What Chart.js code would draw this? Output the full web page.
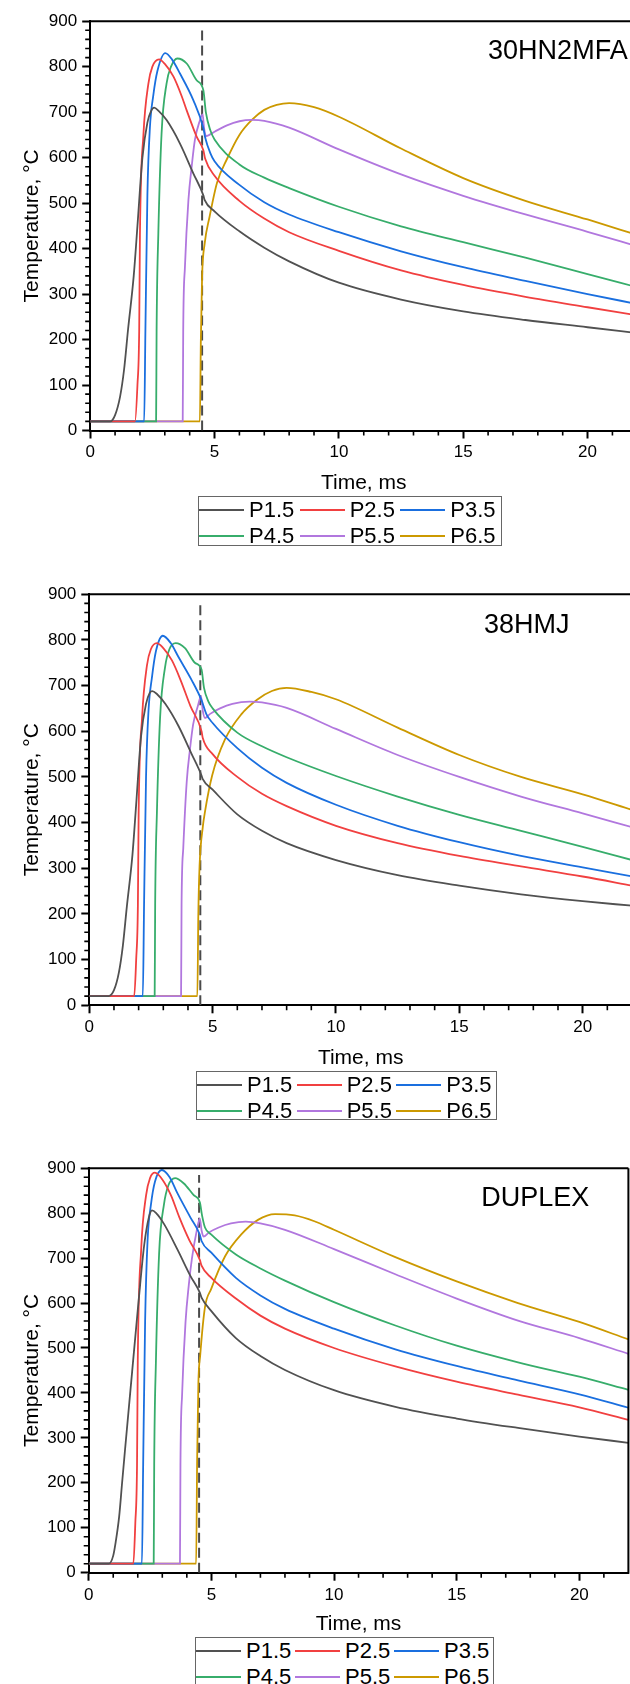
<!DOCTYPE html>
<html>
<head>
<meta charset="utf-8">
<title>Temperature vs time</title>
<script src="https://cdn.jsdelivr.net/npm/chart.js@4.4.0/dist/chart.umd.min.js"></script>
<style>
    html, body { margin: 0; padding: 0; background: #fff; }
    body { width: 630px; height: 1684px; position: relative; overflow: hidden; font-family: 'Liberation Sans', Arial, sans-serif; }
    canvas { position: absolute; left: 0; }
    .legend { position: absolute; box-sizing: border-box; border: 1px solid #666; display: grid; background: #fff; }
    .legend .item { display: flex; align-items: center; white-space: nowrap; font-size: 22px; color: #000; }
    .legend .swatch { display: inline-block; width: 45px; height: 2px; margin-right: 5px; }
</style>
</head>
<body>
<script>
// Series / panels
const seriesNames = ['P1.5', 'P2.5', 'P3.5', 'P4.5', 'P5.5', 'P6.5'];
const panelNames = ['30HN2MFA', '38HMJ', 'DUPLEX'];
const xTicks = [0, 5, 10, 15, 20];
const yTicks = [0, 100, 200, 300, 400, 500, 600, 700, 800, 900];
const xMax = 22;
const pulseEnd = 4.5;      // dashed line, ms
const pulseTop = 885;      // dashed line reaches up to this temperature
const labelAt = [16, 816]; // time, temperature of the steel grade label

// [time ms, temperature C]
// 30HN2MFA
const hn_p15 = [[0,20],[0.8,20],[1.0,34],[1.2,74],[1.36,133],[1.52,221],[1.75,340],[1.9,450],[2.1,600],[2.3,677],[2.45,703],[2.57,710],[2.75,703],[3.08,682],[3.61,631],[4.15,565],[4.55,517],[4.6,507],[5,482],[6,438],[7,402],[8,372],[10,325],[12.5,288],[15,262],[17.5,243],[20,227],[22,214]];
const hn_p25 = [[0,20],[1.8,20],[1.9,100],[1.97,220],[2.0,430],[2.14,650],[2.34,763],[2.5,800],[2.77,816],[3.0,806],[3.35,778],[3.68,735],[3.88,704],[4.28,646],[4.55,616],[4.62,598],[5,560],[6,505],[7,466],[8,436],[10,395],[12.5,352],[15,320],[17.5,294],[20,271],[22,253]];
const hn_p35 = [[0,20],[2.17,20],[2.22,220],[2.3,518],[2.4,665],[2.54,738],[2.7,790],[3.02,830],[3.3,815],[3.61,785],[4.15,726],[4.55,665],[4.62,645],[4.83,610],[5,592],[6,540],[7,502],[8,475],[10,436],[12.5,394],[15,359],[17.5,329],[20,300],[22,278]];
const hn_p45 = [[0,20],[2.65,20],[2.67,220],[2.74,434],[2.87,653],[3.07,763],[3.25,800],[3.5,818],[3.88,807],[4.28,770],[4.55,748],[4.65,700],[4.83,660],[5,640],[6,585],[7,556],[8,533],[10,492],[12.5,449],[15,414],[17.5,380],[20,344],[22,315]];
const hn_p55 = [[0,20],[3.72,20],[3.74,220],[3.81,360],[3.95,507],[4.08,580],[4.21,639],[4.4,680],[4.52,695],[4.58,665],[4.66,647],[5,657],[5.5,671],[6,680],[6.5,683],[7,681],[8,666],[10,618],[12.5,563],[15,516],[17.5,475],[20,437],[22,405]];
const hn_p65 = [[0,20],[4.41,20],[4.45,200],[4.5,340],[4.6,410],[4.8,470],[5.1,545],[5.5,597],[6,650],[6.5,683],[7,705],[7.5,716],[8,720],[9,711],[10,690],[12.5,620],[15,555],[17.5,505],[20,464],[22,430]];

// 38HMJ
const hmj_p15 = [[0,20],[0.78,20],[1.0,33],[1.2,72],[1.36,130],[1.52,215],[1.75,330],[1.9,440],[2.1,590],[2.3,660],[2.45,684],[2.55,688],[2.75,681],[3.08,660],[3.61,612],[4.15,550],[4.55,503],[4.6,495],[5,472],[6,418],[7,382],[8,355],[10,318],[12.5,285],[15,262],[17.5,243],[20,228],[22,218]];
const hmj_p25 = [[0,20],[1.82,20],[1.9,100],[1.97,220],[2.0,420],[2.14,630],[2.34,745],[2.5,780],[2.74,793],[3.0,782],[3.35,755],[3.7,712],[4.1,655],[4.55,600],[4.6,585],[5,550],[6,500],[7,463],[8,436],[10,393],[12.5,355],[15,327],[17.5,304],[20,282],[22,262]];
const hmj_p35 = [[0,20],[2.17,20],[2.22,220],[2.3,500],[2.4,645],[2.54,718],[2.7,775],[2.98,809],[3.3,793],[3.61,763],[4.15,712],[4.55,668],[4.75,637],[5,618],[6,563],[7,520],[8,487],[10,439],[12.5,393],[15,357],[17.5,327],[20,302],[22,282]];
const hmj_p45 = [[0,20],[2.65,20],[2.67,220],[2.74,420],[2.87,630],[3.07,740],[3.25,780],[3.5,793],[3.88,782],[4.28,750],[4.55,735],[4.65,695],[4.83,665],[5,650],[6,597],[7,567],[8,543],[10,502],[12.5,457],[15,417],[17.5,382],[20,347],[22,318]];
const hmj_p55 = [[0,20],[3.72,20],[3.74,220],[3.81,345],[3.95,490],[4.08,560],[4.21,615],[4.4,655],[4.53,677],[4.6,645],[4.69,629],[4.9,638],[5.3,650],[5.8,660],[6.5,665],[7,663],[8,651],[10,605],[12.5,548],[15,500],[17.5,457],[20,420],[22,390]];
const hmj_p65 = [[0,20],[4.38,20],[4.42,200],[4.47,305],[4.6,390],[4.69,424],[4.98,503],[5.5,582],[6.16,637],[6.8,669],[7.4,688],[8,695],[9,686],[10,670],[12.5,608],[15,548],[17.5,500],[20,462],[22,428]];

// DUPLEX
const dup_p15 = [[0,20],[0.82,20],[1.0,38],[1.1,68],[1.24,124],[1.36,199],[1.48,273],[1.77,447],[2.04,608],[2.26,728],[2.45,790],[2.58,806],[2.75,800],[3.08,775],[3.61,720],[4.15,660],[4.53,623],[4.6,612],[5,582],[6,522],[7,482],[8,451],[10,406],[12.5,369],[15,343],[17.5,322],[20,303],[22,289]];
const dup_p25 = [[0,20],[1.82,20],[1.9,110],[1.97,240],[2.0,470],[2.14,720],[2.34,840],[2.5,878],[2.7,890],[3.0,875],[3.35,840],[3.7,790],[4.1,740],[4.53,696],[4.6,683],[5,656],[6,610],[7,572],[8,543],[10,500],[12.5,459],[15,425],[17.5,396],[20,368],[22,340]];
const dup_p35 = [[0,20],[2.17,20],[2.22,240],[2.3,560],[2.4,740],[2.54,820],[2.7,870],[2.98,896],[3.3,880],[3.61,845],[4.15,790],[4.53,752],[4.6,738],[5,712],[6,656],[7,617],[8,587],[10,543],[12.5,497],[15,460],[17.5,428],[20,397],[22,367]];
const dup_p45 = [[0,20],[2.65,20],[2.67,240],[2.74,470],[2.87,710],[3.07,820],[3.25,862],[3.52,878],[3.88,866],[4.28,840],[4.53,824],[4.62,795],[4.74,768],[5,752],[6,708],[7,677],[8,650],[10,602],[12.5,550],[15,505],[17.5,468],[20,436],[22,407]];
const dup_p55 = [[0,20],[3.72,20],[3.74,240],[3.81,400],[3.95,560],[4.08,640],[4.21,700],[4.4,760],[4.53,788],[4.6,762],[4.68,748],[4.9,757],[5.3,768],[5.8,777],[6.4,781],[7,777],[8,763],[10,720],[12.5,664],[15,610],[17.5,561],[20,522],[22,487]];
const dup_p65 = [[0,20],[4.38,20],[4.42,250],[4.47,420],[4.55,487],[4.74,591],[4.99,631],[5.56,704],[6.21,752],[6.9,785],[7.6,798],[8.4,795],[9.2,782],[10,763],[12.5,702],[15,648],[17.5,600],[20,558],[22,519]];

const panelData = [
    [hn_p15, hn_p25, hn_p35, hn_p45, hn_p55, hn_p65],
    [hmj_p15, hmj_p25, hmj_p35, hmj_p45, hmj_p55, hmj_p65],
    [dup_p15, dup_p25, dup_p35, dup_p45, dup_p55, dup_p65]
];

// Look
const seriesColors = ['#515151', '#F14040', '#1A6FDF', '#37AD6B', '#B177DE', '#CC9900'];
const FONT = "'Liberation Sans', Arial, sans-serif";
Chart.defaults.font.family = FONT;
Chart.defaults.color = '#000';

// plot-area placement of each panel on the page (px)
const layouts = [
    { top: 21, bottom: 430.5, left: 90.2, right: 637.3, titleY: 483.5, frameRight: false,
      legend: { left: 198, top: 496, width: 304, height: 50 } },
    { top: 594.3, bottom: 1005.6, left: 89.3, right: 632, titleY: 1058.3, frameRight: false,
      legend: { left: 196, top: 1071, width: 301, height: 49 } },
    { top: 1168, bottom: 1572.7, left: 88.7, right: 628.4, titleY: 1624.7, frameRight: true,
      legend: { left: 195, top: 1637, width: 299, height: 48 } }
];
const PAD_TOP = 15;
const X_AXIS_H = 70;

// top frame line, minor ticks and the grade label
const framePlugin = {
    id: 'frame',
    afterDraw(chart, args, opts) {
        const { ctx, chartArea: a } = chart;
        const x = chart.scales.x, y = chart.scales.y;
        ctx.save();
        ctx.strokeStyle = '#000';
        ctx.lineWidth = 2;
        ctx.beginPath();
        ctx.moveTo(a.left - 1, a.top);
        ctx.lineTo(a.right, a.top);
        if (opts.right) {
            ctx.moveTo(a.right, a.top);
            ctx.lineTo(a.right, a.bottom + 1);
        }
        ctx.stroke();

        ctx.lineWidth = 1.6;
        ctx.beginPath();
        for (let v = 1; v < x.max; v++) {
            if (v % 5 === 0) continue;
            const px = x.getPixelForValue(v);
            ctx.moveTo(px, a.bottom);
            ctx.lineTo(px, a.bottom + 5);
        }
        for (let v = 20; v < y.max; v += 20) {
            if (v % 100 === 0) continue;
            const py = y.getPixelForValue(v);
            ctx.moveTo(a.left, py);
            ctx.lineTo(a.left - 5, py);
        }
        ctx.stroke();

        ctx.fillStyle = '#000';
        ctx.font = '27px ' + FONT;
        ctx.textAlign = 'left';
        ctx.textBaseline = 'alphabetic';
        ctx.fillText(opts.label, x.getPixelForValue(labelAt[0]), y.getPixelForValue(labelAt[1]));
        ctx.restore();
    }
};

function buildLegend(chart, L) {
    const box = document.createElement('div');
    box.className = 'legend';
    box.style.left = L.left + 'px';
    box.style.top = L.top + 'px';
    box.style.width = L.width + 'px';
    box.style.height = L.height + 'px';
    box.style.gridTemplateColumns = 'repeat(3, 1fr)';
    box.style.gridTemplateRows = 'repeat(2, 1fr)';
    chart.data.datasets.filter(ds => seriesNames.includes(ds.label)).forEach(ds => {
        const item = document.createElement('div');
        item.className = 'item';
        const sw = document.createElement('span');
        sw.className = 'swatch';
        sw.style.background = ds.borderColor;
        const txt = document.createElement('span');
        txt.textContent = ds.label;
        item.appendChild(sw);
        item.appendChild(txt);
        box.appendChild(item);
    });
    document.body.appendChild(box);
}

function makePanel(i) {
    const L = layouts[i];
    const W = Math.ceil(L.right) + 2;
    const need = PAD_TOP + (L.bottom - L.top) + X_AXIS_H;
    const H = Math.ceil(need);
    const canvas = document.createElement('canvas');
    canvas.width = W;
    canvas.height = H;
    canvas.style.top = (L.top - PAD_TOP) + 'px';
    canvas.style.width = W + 'px';
    canvas.style.height = H + 'px';
    document.body.appendChild(canvas);

    const datasets = panelData[i].map((pts, k) => ({
        label: seriesNames[k],
        data: pts.map(([t, T]) => ({ x: t, y: T })),
        borderColor: seriesColors[k],
        borderWidth: 1.8,
        pointRadius: 0,
        fill: false,
        cubicInterpolationMode: 'monotone'
    }));
    datasets.push({
        label: 'pulse',
        data: [{ x: pulseEnd, y: 0 }, { x: pulseEnd, y: pulseTop }],
        borderColor: '#4a4a4a',
        borderWidth: 2,
        borderDash: [10, 5],
        pointRadius: 0,
        fill: false
    });

    const chart = new Chart(canvas, {
        type: 'line',
        data: { datasets },
        options: {
            responsive: false,
            animation: false,
            devicePixelRatio: 1,
            layout: { padding: { top: PAD_TOP, left: 0, right: W - L.right, bottom: H - need } },
            plugins: {
                legend: { display: false },
                tooltip: { enabled: false },
                frame: { label: panelNames[i], right: L.frameRight }
            },
            scales: {
                x: {
                    type: 'linear',
                    min: 0,
                    max: xMax,
                    afterFit: s => { s.height = X_AXIS_H; },
                    afterBuildTicks: s => { s.ticks = xTicks.map(v => ({ value: v })); },
                    border: { display: true, color: '#000', width: 2 },
                    grid: { drawOnChartArea: false, drawTicks: true, tickLength: 8, tickWidth: 2, tickColor: '#000' },
                    ticks: { padding: 4, maxRotation: 0, autoSkip: false, color: '#000', font: { size: 17 } },
                    title: {
                        display: true, text: 'Time, ms', color: '#000', font: { size: 21 },
                        padding: { top: 0, bottom: L.bottom + X_AXIS_H - 12.6 - L.titleY }
                    }
                },
                y: {
                    min: 0,
                    max: 900,
                    afterFit: s => { s.width = L.left; },
                    afterBuildTicks: s => { s.ticks = yTicks.map(v => ({ value: v })); },
                    border: { display: true, color: '#000', width: 2 },
                    grid: { drawOnChartArea: false, drawTicks: true, tickLength: 8, tickWidth: 2, tickColor: '#000' },
                    ticks: { padding: 5, color: '#000', font: { size: 17 } },
                    title: {
                        display: true, text: 'Temperature, °C', color: '#000', font: { size: 21 },
                        padding: { top: 20, bottom: 0 }
                    }
                }
            }
        },
        plugins: [framePlugin]
    });
    buildLegend(chart, L.legend);
}

panelData.forEach((_, i) => makePanel(i));
</script>
</body>
</html>
